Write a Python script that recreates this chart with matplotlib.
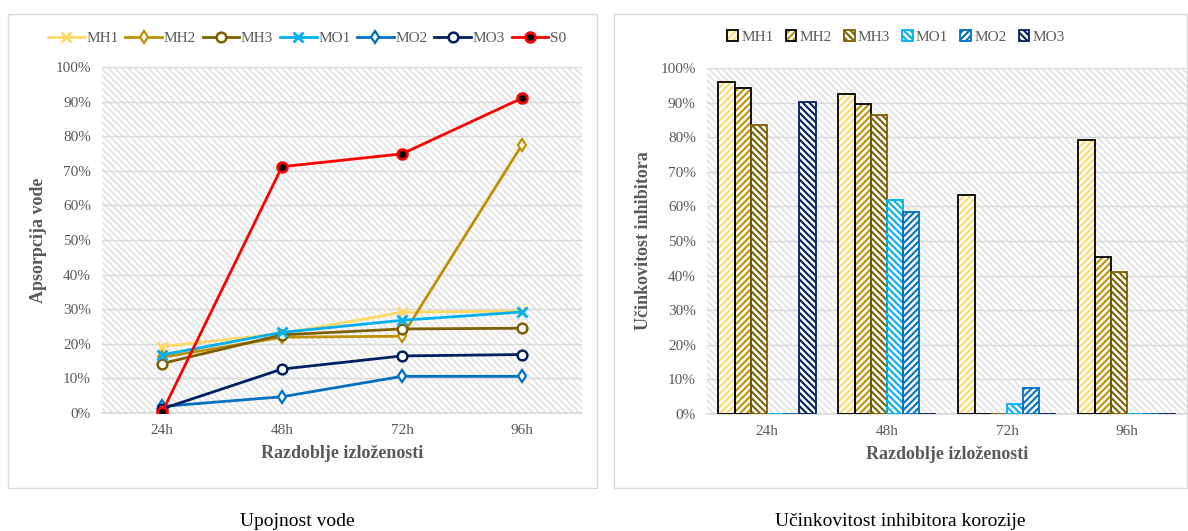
import matplotlib.pyplot as plt
import numpy as np
from matplotlib.patches import Rectangle, Patch
from matplotlib.lines import Line2D

plt.rcParams['font.family'] = ['Liberation Serif', 'DejaVu Serif']
plt.rcParams['hatch.linewidth'] = 1.5

periods = ['24h', '48h', '72h', '96h']
series = ['MH1', 'MH2', 'MH3', 'MO1', 'MO2', 'MO3']

# water absorption (%)
abs_MH1 = [19.2, 23.0, 29.1, 29.5]
abs_MH2 = [16.1, 21.9, 22.2, 77.5]
abs_MH3 = [14.3, 22.6, 24.3, 24.5]
abs_MO1 = [16.8, 23.3, 26.8, 29.2]
abs_MO2 = [1.9, 4.7, 10.6, 10.6]
abs_MO3 = [1.2, 12.7, 16.5, 16.9]
abs_S0 = [0.2, 71.2, 74.9, 91.0]

# inhibitor efficiency (%)
eff_MH1 = [96.1, 92.5, 63.3, 79.3]
eff_MH2 = [94.3, 89.6, 0, 45.4]
eff_MH3 = [83.5, 86.4, 0, 41.0]
eff_MO1 = [0, 61.8, 2.9, 0]
eff_MO2 = [0, 58.4, 7.4, 0]
eff_MO3 = [90.3, 0, 0, 0]

colors = ['#FFD966', '#BF9000', '#7F6000', '#00B0F0', '#0070C0', '#002060', '#FF0000']
grid_c = '#D9D9D9'
tick_c = '#595959'

fig = plt.figure(figsize=(11.88, 5.31), dpi=100)

# panel frames
for x0, x1 in [(8, 597), (614, 1187)]:
    fig.patches.append(Rectangle((x0 / 1188, 1 - 488 / 531), (x1 - x0) / 1188, (488 - 14) / 531,
                                 transform=fig.transFigure, fill=False, edgecolor=grid_c, lw=1))

def style_axes(ax):
    ax.set_ylim(0, 100)
    ax.set_xlim(-0.5, 3.5)
    ax.add_patch(Rectangle((0, 0), 1, 1, transform=ax.transAxes, facecolor='white',
                           edgecolor='#E6E6E6', hatch='\\\\\\\\\\', lw=0, zorder=0))
    ax.set_yticks(np.arange(0, 101, 10))
    ax.set_yticklabels([f'{v}%' for v in range(0, 101, 10)], color=tick_c, fontsize=11)
    ax.set_xticks(range(4))
    ax.set_xticklabels(periods, color=tick_c, fontsize=11)
    ax.tick_params(length=0, pad=8)
    ax.grid(axis='y', color=grid_c, lw=1, zorder=0.5)
    ax.set_axisbelow(True)
    for s in ['top', 'right', 'left']:
        ax.spines[s].set_visible(False)
    ax.spines['bottom'].set_color(grid_c)
    ax.spines['bottom'].set_linewidth(1.2)
    ax.set_xlabel('Razdoblje izloženosti', fontsize=13, fontweight='bold', color=tick_c, labelpad=6)

# left: line chart
ax1 = fig.add_axes([0.0859, 0.2222, 0.404, 0.6516])
style_axes(ax1)
x = np.arange(4)
line_data = [abs_MH1, abs_MH2, abs_MH3, abs_MO1, abs_MO2, abs_MO3, abs_S0]
line_names = series + ['S0']
markers = ['x', 'd', 'o', 'x', 'd', 'o', 'o']
handles = []
for i, (vals, name) in enumerate(zip(line_data, line_names)):
    c = colors[i]
    if name == 'S0':
        kw = dict(marker='o', markersize=7, markerfacecolor='black', markeredgecolor=c, markeredgewidth=2)
    elif markers[i] == 'x':
        kw = dict(marker='x', markersize=7, markeredgewidth=2, markeredgecolor=c)
    elif markers[i] == 'd':
        kw = dict(marker='d', markersize=6, markerfacecolor='white', markeredgecolor=c, markeredgewidth=1.6)
    else:
        kw = dict(marker='o', markersize=7, markerfacecolor='white', markeredgecolor=c, markeredgewidth=1.8)
    ln, = ax1.plot(x, vals, color=c, lw=2, label=name, zorder=3, **kw)
    handles.append(ln)
ax1.set_ylabel('Apsorpcija vode', fontsize=13, fontweight='bold', color=tick_c, labelpad=6)
fig.legend(handles=handles, loc='center', bbox_to_anchor=(307 / 1188, 1 - 38 / 531), ncol=7,
           frameon=False, fontsize=11, handlelength=2.4, handletextpad=0.1, columnspacing=0.45,
           labelcolor=tick_c)

# right: bar chart
ax2 = fig.add_axes([0.5951, 0.2203, 0.404, 0.6516])
style_axes(ax2)
bar_data = [eff_MH1, eff_MH2, eff_MH3, eff_MO1, eff_MO2, eff_MO3]
hatches = ['/////', '/////', '\\\\\\\\\\', '\\\\\\\\\\', '/////', '\\\\\\\\\\']
edges = ['black', 'black', '#7F6000', '#00B0F0', '#0070C0', '#002060']
w = 0.135
for i, vals in enumerate(bar_data):
    pos = x + (i - 2.5) * w
    ax2.bar(pos, vals, width=w, color='white', edgecolor=colors[i], hatch=hatches[i], lw=0, zorder=2)
    ax2.bar(pos, vals, width=w, fill=False, edgecolor=edges[i], lw=1.3, zorder=3)
leg_handles = []
for i in range(6):
    leg_handles.append((Patch(facecolor='white', edgecolor=colors[i], hatch=hatches[i], lw=0),
                        Patch(fill=False, edgecolor=edges[i], lw=1.3)))
fig.legend(handles=leg_handles, labels=series, loc='center', bbox_to_anchor=(896 / 1188, 1 - 37 / 531),
           ncol=6, frameon=False, fontsize=11, handlelength=0.7, handleheight=0.7,
           handletextpad=0.2, columnspacing=0.8, labelcolor=tick_c)
ax2.set_ylabel('Učinkovitost inhibitora', fontsize=13, fontweight='bold', color=tick_c, labelpad=6)

# captions
fig.text(297 / 1188, 1 - 521 / 531, 'Upojnost vode', ha='center', va='center', fontsize=14)
fig.text(900 / 1188, 1 - 521 / 531, 'Učinkovitost inhibitora korozije', ha='center', va='center', fontsize=14)

fig.savefig('out.png', dpi=100)
